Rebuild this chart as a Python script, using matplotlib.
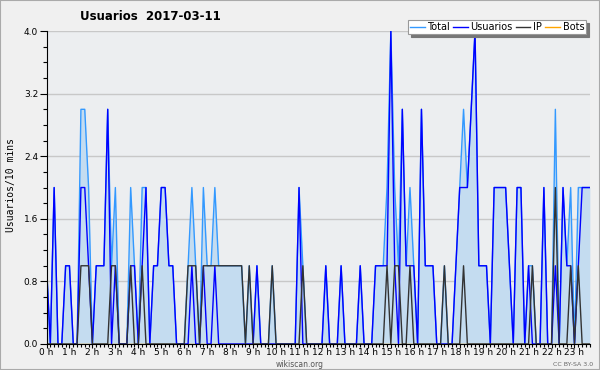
import matplotlib
matplotlib.use('Agg')
from matplotlib import pyplot as plt
from matplotlib.ticker import MultipleLocator
from matplotlib.patches import Rectangle

# values per 10 minute slot, 2017-03-11 00:00 .. 23:40
usuarios = [1, 0, 2, 0, 0, 1, 1, 0, 0, 2, 2, 1, 0, 1, 1, 1, 3, 0, 1, 0,
            0, 0, 1, 1, 0, 1, 2, 0, 1, 1, 2, 2, 1, 1, 0, 0, 0, 0, 1, 0,
            0, 1, 0, 0, 1, 0, 0, 0, 0, 0, 0, 0, 0, 0, 0, 1, 0, 0, 0, 0,
            0, 0, 0, 0, 0, 0, 2, 0, 0, 0, 0, 0, 0, 1, 0, 0, 0, 1, 0, 0,
            0, 0, 1, 0, 0, 0, 1, 1, 1, 1, 4, 1, 0, 3, 1, 1, 1, 0, 3, 1,
            1, 1, 0, 0, 0, 0, 0, 1, 2, 2, 2, 3, 4, 1, 1, 1, 0, 2, 2, 2,
            2, 1, 0, 2, 2, 0, 1, 0, 0, 0, 2, 0, 0, 1, 0, 2, 1, 1, 0, 1,
            2, 2, 2]
ip = [0, 0, 0, 0, 0, 0, 0, 0, 0, 1, 1, 1, 0, 0, 0, 0, 0, 1, 1, 0,
      0, 0, 1, 0, 0, 1, 0, 0, 0, 0, 0, 0, 0, 0, 0, 0, 0, 1, 1, 1,
      0, 1, 1, 1, 1, 1, 1, 1, 1, 1, 1, 1, 0, 1, 0, 0, 0, 0, 0, 1,
      0, 0, 0, 0, 0, 0, 0, 1, 0, 0, 0, 0, 0, 0, 0, 0, 0, 0, 0, 0,
      0, 0, 0, 0, 0, 0, 0, 0, 0, 1, 0, 1, 1, 0, 0, 1, 0, 0, 0, 0,
      0, 0, 0, 0, 1, 0, 0, 0, 0, 1, 0, 0, 0, 0, 0, 0, 0, 0, 0, 0,
      0, 0, 0, 0, 0, 0, 0, 1, 0, 0, 0, 0, 0, 2, 0, 0, 0, 1, 0, 1,
      0, 0, 0]
total = [1, 0, 2, 0, 0, 1, 1, 0, 0, 3, 3, 2, 0, 1, 1, 1, 3, 1, 2, 0,
         0, 0, 2, 1, 0, 2, 2, 0, 1, 1, 2, 2, 1, 1, 0, 0, 0, 1, 2, 1,
         0, 2, 1, 1, 2, 1, 1, 1, 1, 1, 1, 1, 0, 1, 0, 1, 0, 0, 0, 1,
         0, 0, 0, 0, 0, 0, 2, 1, 0, 0, 0, 0, 0, 1, 0, 0, 0, 1, 0, 0,
         0, 0, 1, 0, 0, 0, 1, 1, 1, 2, 4, 2, 1, 3, 1, 2, 1, 0, 3, 1,
         1, 1, 0, 0, 1, 0, 0, 1, 2, 3, 2, 3, 4, 1, 1, 1, 0, 2, 2, 2,
         2, 1, 0, 2, 2, 0, 1, 1, 0, 0, 2, 0, 0, 3, 0, 2, 1, 2, 0, 2,
         2, 2, 2]
bots = [0] * len(total)
slots = list(range(len(total)))
hour_labels = ['%d h' % h for h in range(24)]

fig = plt.figure(figsize=(6, 3.7), dpi=100, facecolor='#f0f0f0')
ax = fig.add_axes([0.0775, 0.0703, 0.9055, 0.8457], facecolor='#eceef0')

ax.fill_between(slots, total, 0, color='#c4dcf0', lw=0)
ax.plot(slots, total, c='#3399ff', lw=1, label='Total')
ax.plot(slots, usuarios, c='#0000ff', lw=1, label='Usuarios')
ax.plot(slots, ip, c='#333333', lw=1, label='IP')
ax.plot(slots, bots, c='#ffa500', lw=1, label='Bots', zorder=1)

ax.set_xlim(0, len(total) - 1)
ax.set_ylim(0, 4)
ax.yaxis.set_major_locator(MultipleLocator(0.8))
ax.yaxis.set_minor_locator(MultipleLocator(0.2))
ax.yaxis.set_major_formatter(matplotlib.ticker.FormatStrFormatter('%.1f'))
ax.set_xticks(range(0, 144, 6))
ax.set_xticklabels(hour_labels)
ax.set_xticks(slots, minor=True)
ax.grid(axis='y', which='major', color='#c8c8c8', lw=1)
ax.set_axisbelow(True)
for s in ['top', 'right']:
	ax.spines[s].set_visible(False)
ax.tick_params(axis='y', which='major', labelsize=6.5, length=5, width=0.8, pad=1)
ax.tick_params(axis='y', which='minor', length=3, width=0.8)
ax.tick_params(axis='x', which='major', labelsize=6.5, length=3, width=0.8, pad=0)
ax.tick_params(axis='x', which='minor', length=2, width=0.8)

leg = ax.legend(ncol=4, loc='upper right', bbox_to_anchor=(0.985, 0.958),
                bbox_transform=fig.transFigure, fontsize=7, frameon=True,
                fancybox=False, edgecolor='#999999', framealpha=1,
                handlelength=1.5, handletextpad=0.3, columnspacing=0.3,
                borderpad=0.2, shadow={'color': '#777777', 'alpha': 1})
leg.get_frame().set_linewidth(0.8)

fig.text(0.25, 0.955, 'Usuarios  2017-03-11', ha='center', va='center',
         fontsize=8.5, fontweight='bold')
fig.text(0.018, 0.5, 'Usuarios/10 mins', rotation=90, ha='center', va='center',
         fontsize=7, family='DejaVu Sans Mono')
fig.text(0.5, 0.016, 'wikiscan.org', ha='center', va='center', fontsize=5.5, color='#555555')
fig.text(0.955, 0.016, 'CC BY-SA 3.0', ha='center', va='center', fontsize=4.5, color='#666666')
fig.patches.append(Rectangle((0, 0), 1, 1, transform=fig.transFigure, fill=False,
                             edgecolor='#aaaaaa', lw=1.5))

fig.savefig('out.png', dpi=100, facecolor=fig.get_facecolor())
